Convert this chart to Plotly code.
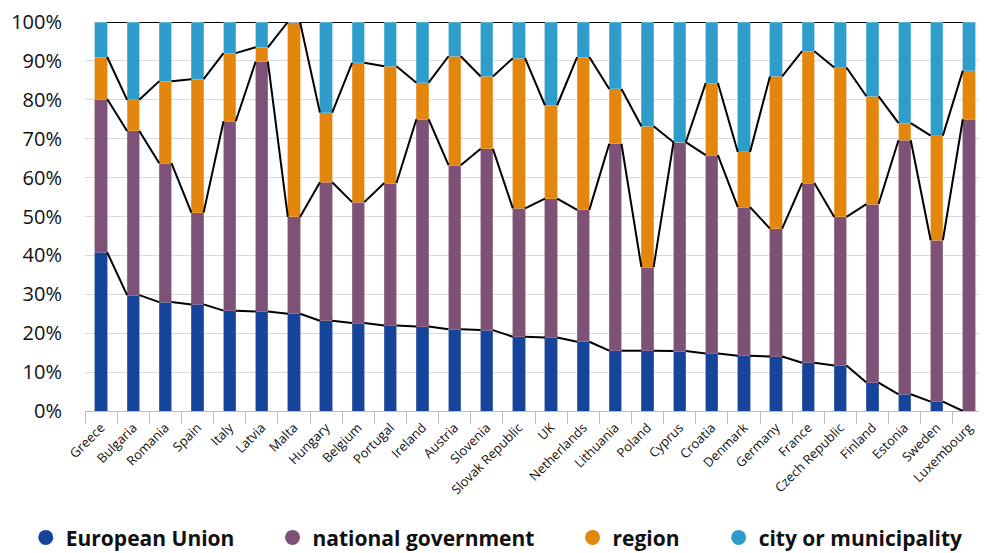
import plotly.graph_objects as go

countries = ["Greece", "Bulgaria", "Romania", "Spain", "Italy", "Latvia", "Malta",
             "Hungary", "Belgium", "Portugal", "Ireland", "Austria", "Slovenia",
             "Slovak Republic", "UK", "Netherlands", "Lithuania", "Poland", "Cyprus",
             "Croatia", "Denmark", "Germany", "France", "Czech Republic", "Finland",
             "Estonia", "Sweden", "Luxembourg"]

# shares in %
eu = [40.8, 29.8, 28.0, 27.4, 25.8, 25.6, 25.0, 23.2, 22.6, 22.0, 21.7, 21.0, 20.8,
      19.1, 18.9, 17.8, 15.5, 15.5, 15.4, 14.8, 14.2, 14.0, 12.4, 11.7, 7.3, 4.3, 2.4, 0.0]
national = [39.4, 42.2, 35.7, 23.6, 48.7, 64.2, 24.9, 35.6, 31.1, 36.6, 53.3, 42.2, 46.6,
            33.0, 35.7, 33.9, 53.2, 21.5, 53.7, 51.0, 38.2, 32.9, 46.2, 38.2, 45.9, 65.3, 41.5, 75.0]
region = [10.8, 8.0, 21.1, 34.3, 17.5, 3.7, 50.1, 17.9, 35.8, 30.0, 9.4, 28.0, 18.6,
          38.6, 24.0, 39.3, 14.1, 36.2, 0.0, 18.5, 14.2, 39.1, 33.9, 38.4, 27.7, 4.4, 26.9, 12.5]
city = [100 - a - b - c for a, b, c in zip(eu, national, region)]

y_ticks = list(range(0, 101, 10))
y_labels = [f"{v}%" for v in y_ticks]

series = [
    ("European Union", eu, "#15449A"),
    ("national government", national, "#7E5277"),
    ("region", region, "#E2860D"),
    ("city or municipality", city, "#2E9DCB"),
]
edges = ["#5C7BB8", "#A184A0", "#F0B060", "#7CC2E0"]

bar_w = 0.38
fig = go.Figure()

n = len(countries)
cum = [0.0] * n
legend_x = [0.018, 0.268, 0.572, 0.72]
for k, (name, vals, color) in enumerate(series):
    fig.add_trace(go.Bar(
        x=countries, y=vals, name=name, width=bar_w,
        marker=dict(color=color, line=dict(color=edges[k], width=0.6)),
        showlegend=False,
    ))
    cum = [c + v for c, v in zip(cum, vals)]
    # series lines: right corner of a bar to left corner of the next one
    lx, ly = [], []
    for i in range(n - 1):
        lx += [i + bar_w / 2, i + 1 - bar_w / 2, None]
        ly += [cum[i], cum[i + 1], None]
    fig.add_trace(go.Scatter(
        x=lx, y=ly, xaxis="x2", mode="lines",
        line=dict(color="black", width=2), showlegend=False, hoverinfo="skip",
    ))
    lg = "legend" if k == 0 else f"legend{k + 1}"
    fig.add_trace(go.Scatter(
        x=[None], y=[None], mode="markers", name=name, legend=lg,
        marker=dict(color=color, size=15, symbol="circle"),
    ))

legend_common = dict(
    orientation="h", xref="container", yref="container", y=0.005, yanchor="bottom",
    font=dict(family="Open Sans", size=21, color="#111111", weight="bold"),
    bgcolor="rgba(0,0,0,0)",
)

# the page body adds an 8px offset, so margins are trimmed by that amount
fig.update_layout(
    barmode="stack",
    width=987, height=553,
    margin=dict(l=77, r=10, t=14, b=150, autoexpand=False),
    paper_bgcolor="white", plot_bgcolor="white",
    font=dict(family="Open Sans", color="#111111"),
    xaxis=dict(
        type="category", tickangle=-45, tickson="boundaries",
        ticks="outside", ticklen=12, tickcolor="#BBBBBB", tickwidth=1,
        showline=True, linecolor="#BBBBBB", linewidth=1,
        showgrid=False, tickfont=dict(size=13, color="#111111"),
        range=[-0.5, n - 0.5], automargin=False, ticklabelstandoff=3,
    ),
    xaxis2=dict(overlaying="x", range=[-0.5, n - 0.5], visible=False),
    yaxis=dict(
        range=[0, 100], tickvals=y_ticks, ticktext=y_labels,
        showgrid=True, gridcolor="#D9D9D9", gridwidth=1, zeroline=False,
        tickfont=dict(size=20, color="#111111"), ticklabelstandoff=22,
        automargin=False,
    ),
    legend=dict(x=legend_x[0], **legend_common),
    legend2=dict(x=legend_x[1], **legend_common),
    legend3=dict(x=legend_x[2], **legend_common),
    legend4=dict(x=legend_x[3], **legend_common),
)

fig.write_html("out.html")
